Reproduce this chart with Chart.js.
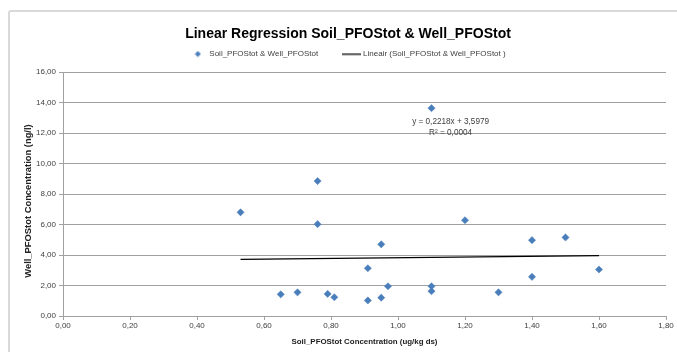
<!DOCTYPE html>
<html>
<head>
<meta charset="utf-8">
<script src="https://cdn.jsdelivr.net/npm/chart.js@4.4.1/dist/chart.umd.min.js"></script>
<style>
  html, body { margin: 0; padding: 0; background: #fff; overflow: hidden; }
  #frame { position: absolute; left: 8px; top: 10px; width: 720px; height: 400px;
           border: 2px solid #d9d9d9; border-radius: 3px; }
  #wrap { position: absolute; left: 0; top: 0; width: 677px; height: 352px; }
</style>
</head>
<body>
<div id="frame"></div>
<div id="wrap"><canvas id="chart"></canvas></div>
<script>
const soilX = [0.53, 0.65, 0.70, 0.76, 0.76, 0.79, 0.81, 0.91, 0.91, 0.95, 0.95,
               0.97, 1.10, 1.10, 1.10, 1.20, 1.30, 1.40, 1.40, 1.50, 1.60];
const wellY = [6.80, 1.42, 1.55, 8.85, 6.02, 1.45, 1.23, 3.13, 1.02, 4.70, 1.20,
               1.95, 13.63, 1.95, 1.63, 6.28, 1.55, 4.97, 2.57, 5.15, 3.05];
const trendSlope = 0.2218;
const trendIntercept = 3.5979;
const trendRSquared = 0.0004;
const xTicks = [0, 0.2, 0.4, 0.6, 0.8, 1.0, 1.2, 1.4, 1.6, 1.8];
const yTicks = [0, 2, 4, 6, 8, 10, 12, 14, 16];

const FONT = "'Liberation Sans', Arial, sans-serif";
const BLUE = '#4a7ebb';
const GRID = '#a0a0a0';

function comma(v, d) {
  return v.toFixed(d).replace('.', ',');
}

// trend line from the equation shown on the chart
const xMin = Math.min(...soilX);
const xMax = Math.max(...soilX);
const trendPoints = [xMin, xMax].map(x => ({ x: x, y: trendSlope * x + trendIntercept }));

// small images used as legend markers
function diamondIcon() {
  const c = document.createElement('canvas');
  c.width = 7; c.height = 7;
  const g = c.getContext('2d');
  g.fillStyle = BLUE;
  g.beginPath();
  g.moveTo(3.5, 0.5); g.lineTo(6.5, 3.5); g.lineTo(3.5, 6.5); g.lineTo(0.5, 3.5);
  g.closePath();
  g.fill();
  return c;
}
function lineIcon() {
  const c = document.createElement('canvas');
  c.width = 19; c.height = 3;
  const g = c.getContext('2d');
  g.fillStyle = '#000';
  g.fillRect(0, 1, 19, 1.2);
  return c;
}
const legendIcons = [diamondIcon(), lineIcon()];

// a little more room between legend and plot
const legendGap = {
  id: 'legendGap',
  afterInit(chart) {
    const lg = chart.legend;
    const fit = lg.fit.bind(lg);
    lg.fit = function () { fit(); this.height += 4; };
  }
};

const equationLabel = {
  id: 'equationLabel',
  afterDatasetsDraw(chart) {
    const { ctx, scales: { x, y } } = chart;
    const px = x.getPixelForValue(1.157);
    const py = y.getPixelForValue(12.77);
    ctx.save();
    ctx.font = '8.2px ' + FONT;
    ctx.fillStyle = '#404040';
    ctx.textAlign = 'center';
    ctx.textBaseline = 'middle';
    ctx.fillText('y = ' + comma(trendSlope, 4) + 'x + ' + comma(trendIntercept, 4), px, py);
    ctx.fillText('R\u00b2 = ' + comma(trendRSquared, 4), px, py + 11.3);
    ctx.restore();
  }
};

new Chart(document.getElementById('chart'), {
  type: 'scatter',
  data: {
    datasets: [{
      label: 'Soil_PFOStot & Well_PFOStot',
      data: soilX.map((x, i) => ({ x: x, y: wellY[i] })),
      pointStyle: 'rectRot',
      pointRadius: 3.6,
      pointHoverRadius: 3.6,
      backgroundColor: BLUE,
      borderColor: BLUE,
      borderWidth: 0.5
    }, {
      label: 'Lineair (Soil_PFOStot & Well_PFOStot )',
      data: trendPoints,
      showLine: true,
      borderColor: '#000',
      borderWidth: 1.3,
      pointRadius: 0,
      pointHoverRadius: 0
    }]
  },
  options: {
    responsive: true,
    maintainAspectRatio: false,
    animation: false,
    layout: { padding: { left: 30, right: 11, top: 0, bottom: 5 } },
    plugins: {
      tooltip: { enabled: false },
      title: {
        display: true,
        text: 'Linear Regression Soil_PFOStot & Well_PFOStot',
        color: '#000',
        font: { family: FONT, size: 14, weight: 'bold', lineHeight: 1.2 },
        padding: { top: 26, bottom: -6.8 }
      },
      legend: {
        display: true,
        labels: {
          usePointStyle: true,
          pointStyleWidth: 15,
          padding: 14,
          color: '#404040',
          font: { family: FONT, size: 8 },
          generateLabels(chart) {
            const items = Chart.defaults.plugins.legend.labels.generateLabels(chart);
            items.forEach((it, i) => {
              it.pointStyle = legendIcons[i];
              if (i === 0) it.text += '\u2002\u2002\u2002';
            });
            return items;
          }
        }
      }
    },
    scales: {
      x: {
        type: 'linear',
        min: xTicks[0],
        max: xTicks[xTicks.length - 1],
        afterBuildTicks(scale) { scale.ticks = xTicks.map(v => ({ value: v })); },
        afterFit(scale) { scale.height = 31; },
        ticks: {
          callback: v => comma(v, 2),
          color: '#404040',
          font: { family: FONT, size: 8 },
          padding: 1,
          maxRotation: 0,
          autoSkip: false
        },
        grid: { drawOnChartArea: false, drawTicks: true, tickLength: 4, color: GRID },
        border: { display: true, color: GRID },
        title: {
          display: true,
          text: 'Soil_PFOStot Concentration (ug/kg ds)',
          color: '#222',
          font: { family: FONT, size: 7.9, weight: 'bold' },
          padding: { top: 0, bottom: 0 }
        }
      },
      y: {
        type: 'linear',
        min: yTicks[0],
        max: yTicks[yTicks.length - 1],
        afterBuildTicks(scale) { scale.ticks = yTicks.map(v => ({ value: v })); },
        afterFit(scale) { scale.width = 33; },
        ticks: {
          callback: v => comma(v, 2),
          color: '#404040',
          font: { family: FONT, size: 8 },
          padding: 3
        },
        grid: { color: GRID, drawTicks: true, tickLength: 4 },
        border: { display: true, color: GRID },
        title: {
          display: true,
          text: 'Well_PFOStot Concentration (ng/l)\u2002\u2002\u2002',
          color: '#222',
          font: { family: FONT, size: 9.4, weight: 'bold' },
          padding: { top: -7.6, bottom: 0 }
        }
      }
    }
  },
  plugins: [legendGap, equationLabel]
});
</script>
</body>
</html>
